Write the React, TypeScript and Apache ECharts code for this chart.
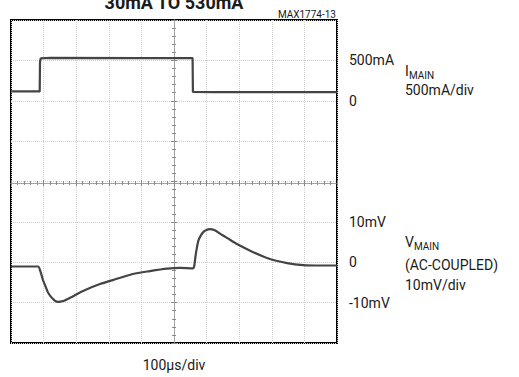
import React, { useEffect, useRef } from "react";
import * as echarts from "echarts";

// Time base: 100µs/div, 10 divisions
const timeI: number[] = [0, 88, 89, 91, 120, 400, 557, 558, 620, 1000];
const currentMA: number[] = [115, 115, 480, 525, 530, 528, 528, 110, 108, 107];

const timeV: number[] = [
  0, 83, 90, 98, 106, 113, 121, 129, 136, 144, 160, 181, 221, 273, 325, 374,
  426, 479, 518, 558, 562, 566, 570, 575, 582, 589, 598, 610, 625, 641, 665,
  693, 743, 794, 847, 896, 950, 1000,
];
const voltageMV: number[] = [
  -1.05, -1.05, -2.2, -4.4, -6.0, -7.4, -8.4, -9.1, -9.6, -9.8, -9.6, -8.8,
  -7.1, -5.4, -4.1, -2.9, -2.2, -1.6, -1.4, -1.5, -1.0, 1.5, 3.5, 5.4, 6.6,
  7.4, 7.9, 8.2, 7.9, 7.1, 5.9, 4.5, 2.5, 0.8, -0.2, -0.7, -0.8, -0.8,
];

const currentTicks: Record<number, string> = { 500: "500mA", 0: "0" };
const voltageTicks: Record<number, string> = { 10: "10mV", 0: "0", [-10]: "-10mV" };

const FONT = "Roboto, 'Liberation Sans', sans-serif";
const INK = "#1a1a1a";
const TRACE = "#444444";
const GRID_LINE = "#cfcfcf";

export default function App() {
  const ref = useRef<HTMLDivElement>(null);

  useEffect(() => {
    if (!ref.current) return;
    const chart = echarts.init(ref.current, undefined, { renderer: "svg" });

    const centreTickAxis = (inside: boolean) => ({
      axisLine: { show: true, lineStyle: { color: "#9a9a9a", width: 1, type: "dotted" as const } },
      axisTick: { show: true, inside, length: 3, lineStyle: { color: "#8a8a8a" } },
      minorTick: { show: true, splitNumber: 5, length: 2, lineStyle: { color: "#8a8a8a" } },
      axisLabel: { show: false },
      splitLine: { show: false },
    });

    chart.setOption({
      animation: false,
      backgroundColor: "#ffffff",
      grid: {
        left: 11,
        top: 20,
        width: 326,
        height: 326,
        show: true,
        borderColor: "#000",
        borderWidth: 2,
        backgroundColor: "transparent",
      },
      xAxis: [
        {
          type: "value",
          min: 0,
          max: 1000,
          interval: 100,
          axisLine: { show: false },
          axisTick: { show: false },
          axisLabel: { show: false },
          splitLine: { show: true, lineStyle: { color: GRID_LINE, type: "dotted", width: 1 } },
          name: "100µs/div",
          nameLocation: "middle",
          nameGap: 15,
          nameTextStyle: { fontFamily: FONT, fontSize: 14, color: INK, verticalAlign: "top" },
        },
        { type: "value", min: 0, max: 1000, interval: 100, position: "bottom", offset: -163, ...centreTickAxis(false) },
        { type: "value", min: 0, max: 1000, interval: 100, position: "bottom", offset: -163, ...centreTickAxis(true) },
      ],
      yAxis: [
        {
          type: "value",
          min: -3000,
          max: 1000,
          interval: 500,
          position: "right",
          axisLine: { show: false },
          axisTick: { show: false },
          axisLabel: {
            show: true,
            margin: 12,
            fontFamily: FONT,
            fontSize: 14,
            color: INK,
            formatter: (v: number) => currentTicks[v] ?? "",
          },
          splitLine: { show: true, lineStyle: { color: GRID_LINE, type: "dotted", width: 1 } },
        },
        {
          type: "value",
          min: -20,
          max: 60,
          interval: 10,
          position: "right",
          axisLine: { show: false },
          axisTick: { show: false },
          axisLabel: {
            show: true,
            margin: 12,
            fontFamily: FONT,
            fontSize: 14,
            color: INK,
            formatter: (v: number) => voltageTicks[v] ?? "",
          },
          splitLine: { show: false },
        },
        { type: "value", min: 0, max: 8, interval: 1, position: "left", offset: -163, ...centreTickAxis(false) },
        { type: "value", min: 0, max: 8, interval: 1, position: "left", offset: -163, ...centreTickAxis(true) },
      ],
      series: [
        {
          name: "IMAIN",
          type: "line",
          xAxisIndex: 0,
          yAxisIndex: 0,
          data: timeI.map((t, i) => [t, currentMA[i]]),
          showSymbol: false,
          lineStyle: { color: TRACE, width: 2.2 },
        },
        {
          name: "VMAIN",
          type: "line",
          xAxisIndex: 0,
          yAxisIndex: 1,
          data: timeV.map((t, i) => [t, voltageMV[i]]),
          showSymbol: false,
          smooth: 0.25,
          lineStyle: { color: TRACE, width: 2.2 },
        },
      ],
      graphic: [
        {
          type: "text",
          x: 174,
          y: 11,
          style: {
            text: "30mA TO 530mA",
            fontFamily: FONT,
            fontSize: 18,
            fontWeight: "bold",
            fill: INK,
            textAlign: "center",
            textVerticalAlign: "bottom",
          },
        },
        {
          type: "text",
          x: 336,
          y: 14,
          style: {
            text: "MAX1774-13",
            fontFamily: FONT,
            fontSize: 10,
            fill: INK,
            textAlign: "right",
            textVerticalAlign: "middle",
          },
        },
        { type: "text", x: 405, y: 71, style: { text: "I", fontFamily: FONT, fontSize: 14, fill: INK, textVerticalAlign: "middle" } },
        { type: "text", x: 409, y: 75, style: { text: "MAIN", fontFamily: FONT, fontSize: 10, fill: INK, textVerticalAlign: "middle" } },
        { type: "text", x: 405, y: 90, style: { text: "500mA/div", fontFamily: FONT, fontSize: 14, fill: INK, textVerticalAlign: "middle" } },
        { type: "text", x: 405, y: 242, style: { text: "V", fontFamily: FONT, fontSize: 14, fill: INK, textVerticalAlign: "middle" } },
        { type: "text", x: 414, y: 246, style: { text: "MAIN", fontFamily: FONT, fontSize: 10, fill: INK, textVerticalAlign: "middle" } },
        { type: "text", x: 405, y: 265, style: { text: "(AC-COUPLED)", fontFamily: FONT, fontSize: 14, fill: INK, textVerticalAlign: "middle" } },
        { type: "text", x: 405, y: 285, style: { text: "10mV/div", fontFamily: FONT, fontSize: 14, fill: INK, textVerticalAlign: "middle" } },
      ],
    });

    return () => chart.dispose();
  }, []);

  return (
    <div
      ref={ref}
      style={{ position: "fixed", left: 0, top: 0, width: 519, height: 377, background: "#fff" }}
    />
  );
}
